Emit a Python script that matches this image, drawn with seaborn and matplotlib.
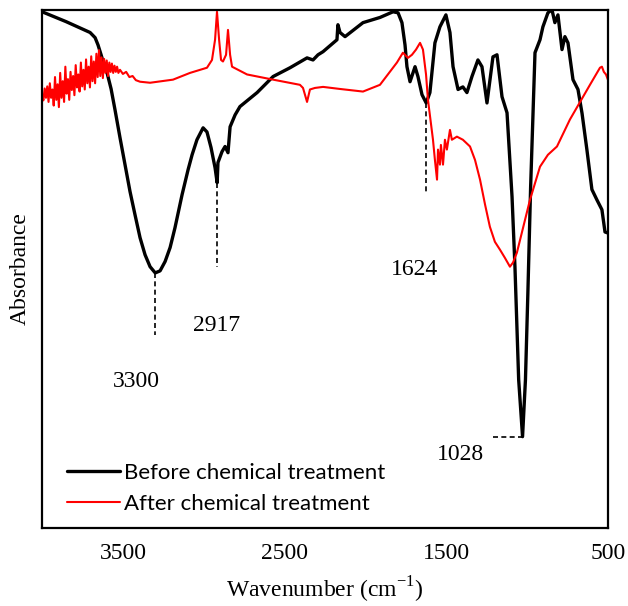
import matplotlib
matplotlib.use("Agg")
import matplotlib.pyplot as plt
import seaborn as sns
import pandas as pd

# spectra (wavenumber cm-1, absorbance a.u.)
wn_before = [4000, 3852, 3703, 3672, 3654, 3635, 3617, 3598, 3573, 3549, 3518, 3487,
             3456, 3425, 3394, 3363, 3332, 3300, 3270, 3239, 3208, 3178, 3134, 3097,
             3072, 3042, 3004, 2980, 2955, 2930, 2917, 2912, 2887, 2868, 2850,
             2837, 2806, 2776, 2670, 2571, 2466, 2361, 2324, 2293, 2262, 2176, 2170,
             2157, 2126, 2015, 1910, 1829, 1798, 1774, 1755, 1743, 1724, 1693, 1675,
             1650, 1624, 1601, 1570, 1539, 1502, 1477, 1458, 1427, 1397, 1372, 1341,
             1304, 1279, 1248, 1211, 1186, 1155, 1124, 1093, 1075, 1052, 1028, 1010,
             995, 978, 951, 920, 902, 871, 846, 828, 809, 784, 766, 747, 716, 685,
             660, 630, 599, 568, 537, 518, 500]
ab_before = [0.996, 0.977, 0.956, 0.946, 0.932, 0.913, 0.894, 0.878, 0.847, 0.807, 0.753, 0.701,
             0.649, 0.604, 0.560, 0.527, 0.504, 0.492, 0.496, 0.514, 0.541, 0.579, 0.643, 0.691,
             0.720, 0.749, 0.772, 0.764, 0.734, 0.695, 0.666, 0.705, 0.726, 0.736, 0.724,
             0.774, 0.797, 0.813, 0.840, 0.871, 0.888, 0.907, 0.903, 0.913, 0.919, 0.942, 0.971,
             0.956, 0.948, 0.975, 0.985, 0.996, 0.994, 0.975, 0.932, 0.890, 0.861, 0.890, 0.871,
             0.836, 0.820, 0.840, 0.936, 0.967, 0.990, 0.956, 0.890, 0.846, 0.851, 0.840, 0.871,
             0.903, 0.890, 0.820, 0.909, 0.913, 0.832, 0.801, 0.639, 0.504, 0.286, 0.176, 0.286,
             0.454, 0.658, 0.917, 0.942, 0.967, 0.994, 1.000, 0.975, 0.990, 0.923, 0.948, 0.936,
             0.865, 0.846, 0.800, 0.730, 0.653, 0.633, 0.614, 0.571, 0.569]

wn_after = [4000, 3992, 3984, 3976, 3968, 3960, 3952, 3944, 3936, 3928, 3920, 3912,
            3904, 3896, 3888, 3880, 3872, 3864, 3856, 3848, 3840, 3832, 3824, 3816,
            3808, 3800, 3792, 3784, 3776, 3768, 3760, 3752, 3744, 3736, 3728, 3720,
            3712, 3704, 3696, 3688, 3680, 3672, 3664, 3656, 3648, 3640, 3632, 3624,
            3616, 3608, 3600, 3592, 3584, 3576, 3568, 3560, 3552, 3544, 3536, 3528,
            3518, 3500, 3480, 3460, 3440, 3420, 3394, 3332, 3190, 3085, 2980, 2949,
            2930, 2918, 2905, 2893, 2881, 2862, 2850, 2837, 2825, 2732, 2571, 2405,
            2386, 2374, 2361, 2343, 2312, 2262, 2157, 2015, 1910, 1805, 1768, 1737,
            1712, 1687, 1662, 1644, 1625, 1613, 1594, 1582, 1570, 1557, 1551, 1539,
            1533, 1520, 1508, 1496, 1477, 1465, 1434, 1397, 1353, 1322, 1291, 1260,
            1230, 1199, 1168, 1137, 1106, 1087, 1063, 1025, 982, 920, 871, 815,
            735, 654, 611, 568, 549, 537, 525, 512, 500]
ab_after = [0.836, 0.825, 0.848, 0.830, 0.852, 0.822, 0.858, 0.830, 0.846, 0.815, 0.870, 0.826,
            0.856, 0.812, 0.878, 0.830, 0.862, 0.822, 0.890, 0.838, 0.866, 0.826, 0.880, 0.845,
            0.872, 0.835, 0.893, 0.850, 0.875, 0.842, 0.898, 0.852, 0.884, 0.846, 0.904, 0.858,
            0.890, 0.850, 0.910, 0.862, 0.900, 0.858, 0.915, 0.870, 0.922, 0.872, 0.908, 0.868,
            0.905, 0.878, 0.902, 0.872, 0.898, 0.880, 0.896, 0.878, 0.892, 0.880, 0.890, 0.878,
            0.884, 0.876, 0.880, 0.870, 0.872, 0.864, 0.861, 0.859, 0.865, 0.878, 0.888, 0.903,
            0.942, 0.996, 0.942, 0.903, 0.900, 0.913, 0.961, 0.913, 0.890, 0.875, 0.865, 0.855,
            0.849, 0.836, 0.822, 0.846, 0.849, 0.851, 0.847, 0.842, 0.855, 0.898, 0.917, 0.907,
            0.913, 0.923, 0.936, 0.923, 0.875, 0.826, 0.778, 0.749, 0.710, 0.672, 0.730, 0.701,
            0.739, 0.701, 0.749, 0.730, 0.768, 0.749, 0.755, 0.749, 0.736, 0.710, 0.672, 0.624,
            0.581, 0.552, 0.537, 0.521, 0.504, 0.512, 0.531, 0.579, 0.633, 0.697, 0.720, 0.736,
            0.788, 0.832, 0.855, 0.878, 0.888, 0.890, 0.880, 0.875, 0.865]

peak_labels = ["3300", "2917", "1624", "1028"]

df = pd.concat([
    pd.DataFrame({"wn": wn_before, "ab": ab_before, "sample": "Before chemical treatment"}),
    pd.DataFrame({"wn": wn_after, "ab": ab_after, "sample": "After chemical treatment"}),
])

sns.set_theme(style="white")
plt.rcParams["font.family"] = ["Liberation Serif", "DejaVu Serif"]
plt.rcParams["mathtext.fontset"] = "custom"
plt.rcParams["mathtext.rm"] = "Liberation Serif"
plt.rcParams["text.color"] = "black"
plt.rcParams["axes.labelcolor"] = "black"
plt.rcParams["xtick.color"] = "black"

fig = plt.figure(figsize=(6.28, 6.06), dpi=100)
ax = fig.add_axes([0.067, 0.129, 0.901, 0.855])

sns.lineplot(data=df, x="wn", y="ab", hue="sample", size="sample",
             palette={"Before chemical treatment": "black", "After chemical treatment": "#ff0000"},
             sizes={"Before chemical treatment": 2.4, "After chemical treatment": 1.5},
             estimator=None, sort=False, ax=ax)

ax.set_xlim(4000, 500)
ax.set_ylim(0, 1)
ax.set_xticks([3500, 2500, 1500, 500])
ax.set_yticks([])
ax.tick_params(axis="x", length=0, pad=11, labelsize=17)
for s in ax.spines.values():
    s.set_color("black")
    s.set_linewidth(1.6)

ax.set_xlabel(r"Wavenumber (cm$^{\mathregular{-1}}$)", fontsize=17, labelpad=8)
ax.set_ylabel("Absorbance", fontsize=17, labelpad=8)

# peak markers
dash = dict(color="black", lw=1.2, ls=(0, (3, 2)))
ax.plot([3300, 3300], [0.492, 0.373], **dash)
ax.plot([2917, 2917], [0.666, 0.504], **dash)
ax.plot([1624, 1624], [0.820, 0.649], **dash)
ax.plot([1211, 1030], [0.176, 0.176], **dash)
ax.text(3418, 0.282, peak_labels[0], fontsize=17, ha="center", va="center")
ax.text(2918, 0.390, peak_labels[1], fontsize=17, ha="center", va="center")
ax.text(1693, 0.498, peak_labels[2], fontsize=17, ha="center", va="center")
ax.text(1409, 0.141, peak_labels[3], fontsize=17, ha="center", va="center")

leg = ax.legend(loc="lower left", bbox_to_anchor=(0.008, -0.012), frameon=False,
                handlelength=2.4, handletextpad=0.2, labelspacing=0.5,
                prop={"family": "Lato", "size": 16})

fig.savefig("out.png", dpi=100)
